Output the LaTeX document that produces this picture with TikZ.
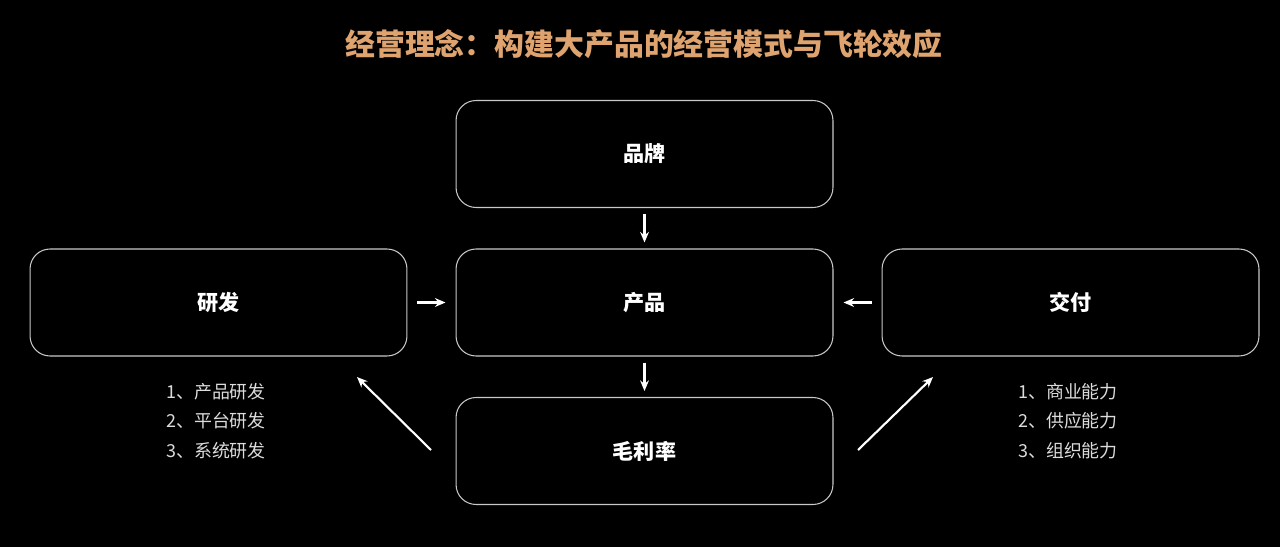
\documentclass[tikz,border=0pt]{standalone}
\usepackage{fontspec}
\setmainfont{Noto Sans CJK SC}
\usepackage{xcolor}
\usepackage{tikz}
\usetikzlibrary{arrows.meta}
\definecolor{titlegold}{RGB}{222,163,110}
\definecolor{boxline}{RGB}{200,200,200}
\definecolor{listgray}{RGB}{220,220,220}

\begin{document}
\begin{tikzpicture}[x=0.02cm, y=-0.02cm, >={Stealth[length=6pt,width=5pt]},
	box/.style={rectangle, rounded corners=0.4cm, draw=boxline, line width=0.6pt, minimum width=7.54cm, minimum height=2.14cm, text=white, font=\fontsize{12pt}{14pt}\selectfont\bfseries},
	list/.style={align=left, text=listgray, inner sep=0pt, font=\fontsize{10.2pt}{16.8pt}\selectfont},
	arrow/.style={->, draw=white, line width=1.2pt}]
	\fill[black] (0,0) rectangle (1280,547);
	\node[text=titlegold, font=\fontsize{17pt}{20pt}\selectfont\bfseries](title) at (644,44){经营理念：构建大产品的经营模式与飞轮效应};
	\node[box](pinpai) at (644.5,154){品牌};
	\node[box](chanpin) at (644.5,302.5){产品};
	\node[box](maolilv) at (644.5,451){毛利率};
	\node[box](yanfa) at (218.5,302.5){研发};
	\node[box](jiaofu) at (1070.5,302.5){交付};
	\node[list](yanfalist) at (216,421){1、产品研发\\2、平台研发\\3、系统研发};
	\node[list](jiaofulist) at (1068,421){1、商业能力\\2、供应能力\\3、组织能力};
	\coordinate(lfrom) at (431,450);
	\coordinate(lto) at (357,377);
	\coordinate(rfrom) at (858,450);
	\coordinate(rto) at (933,377);
	\draw[arrow, shorten <=0.12cm, shorten >=0.12cm] (pinpai) -- (chanpin);
	\draw[arrow, shorten <=0.12cm, shorten >=0.12cm] (chanpin) -- (maolilv);
	\draw[arrow, shorten <=0.2cm, shorten >=0.2cm] (yanfa) -- (chanpin);
	\draw[arrow, shorten <=0.2cm, shorten >=0.2cm] (jiaofu) -- (chanpin);
	\draw[arrow] (lfrom) -- (lto);
	\draw[arrow] (rfrom) -- (rto);
\end{tikzpicture}
\end{document}
